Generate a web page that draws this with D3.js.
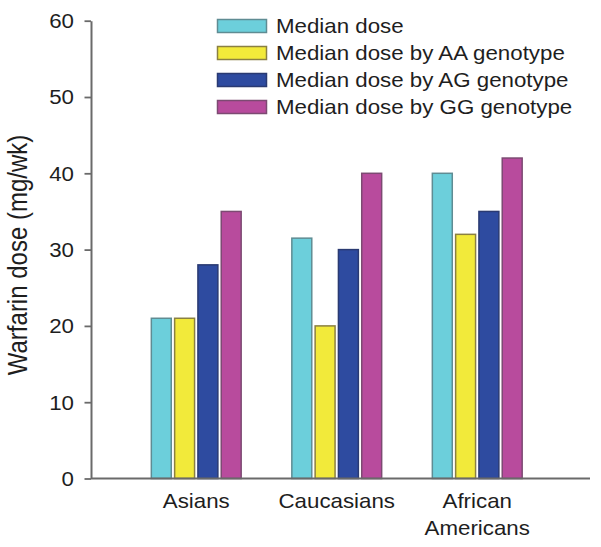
<!DOCTYPE html>
<html>
<head>
<meta charset="utf-8">
<script src="https://cdn.jsdelivr.net/npm/d3@7"></script>
<style>
  html, body { margin: 0; padding: 0; background: #fff; }
  svg { display: block; }
  text { font-family: "Liberation Sans", Arial, Helvetica, sans-serif; fill: #1e1e1e; }
</style>
</head>
<body>
<svg id="chart" width="601" height="547"></svg>
<script>
// ---- data ----
const categories = ["Asians", "Caucasians", "African Americans"];
const seriesNames = [
  "Median dose",
  "Median dose by AA genotype",
  "Median dose by AG genotype",
  "Median dose by GG genotype"
];
const medianDose = [21, 31.5, 40];
const doseAA = [21, 20, 32];
const doseAG = [28, 30, 35];
const doseGG = [35, 40, 42];
const yTicks = [0, 10, 20, 30, 40, 50, 60];
const yLabel = "Warfarin dose (mg/wk)";

const seriesValues = [medianDose, doseAA, doseAG, doseGG];
const fills = ["#6ccfdb", "#f2ea3a", "#2e4ba0", "#b84b9d"];
const strokes = ["#5f8c93", "#8a8042", "#2a3a72", "#7c4a72"];

// ---- layout ----
const svg = d3.select("#chart");
const axisX = 91, baseY = 478.5, topY = 20.7, rightX = 590;
const sx = 1.15; // horizontal stretch of the type
const fs = 19.4;

const y = d3.scaleLinear().domain([0, 60]).range([baseY, topY]);
const x0 = d3.scaleBand().domain(categories).range([126, 547.5])
  .paddingInner(0.35).paddingOuter(0.175);
const x1 = d3.scaleBand().domain(d3.range(seriesNames.length))
  .range([0, x0.bandwidth()]).paddingInner(0.08).paddingOuter(0);

// ---- bars ----
const groups = svg.append("g").selectAll("g")
  .data(categories).join("g")
  .attr("transform", d => `translate(${x0(d)},0)`);

groups.selectAll("rect")
  .data((c, ci) => seriesValues.map((vals, si) => ({ si, v: vals[ci] })))
  .join("rect")
  .attr("x", d => x1(d.si) + 0.75)
  .attr("width", x1.bandwidth() - 1.5)
  .attr("y", d => y(d.v))
  .attr("height", d => y(0) - y(d.v))
  .attr("fill", d => fills[d.si])
  .attr("stroke", d => strokes[d.si])
  .attr("stroke-width", 1.5);

// ---- x axis line ----
svg.append("line")
  .attr("x1", axisX).attr("x2", rightX)
  .attr("y1", y(0)).attr("y2", y(0))
  .attr("stroke", "#6a6a6a").attr("stroke-width", 2);

// ---- y axis ----
const yAxis = svg.append("g")
  .attr("transform", `translate(${axisX},0)`)
  .call(d3.axisLeft(y).tickValues(yTicks).tickSize(6.5).tickSizeOuter(0));
yAxis.select(".domain").attr("stroke", "#6a6a6a").attr("stroke-width", 2);
yAxis.selectAll(".tick line").attr("stroke", "#6a6a6a").attr("stroke-width", 1.8);
yAxis.selectAll(".tick text")
  .attr("x", null).attr("dy", null)
  .attr("text-anchor", "end")
  .attr("dominant-baseline", "central")
  .attr("transform", `translate(-17,0) scale(${sx},1)`)
  .style("font-size", fs + "px")
  .style("font-family", '"Liberation Sans", Arial, sans-serif')
  .attr("fill", "#1e1e1e");

// ---- category labels ----
const xAxis = svg.append("g")
  .attr("transform", `translate(0,${y(0)})`)
  .call(d3.axisBottom(x0).tickSize(0));
xAxis.select(".domain").remove();
xAxis.selectAll(".tick text").each(function(d) {
  const t = d3.select(this);
  t.text(null).attr("y", null).attr("dy", null)
   .attr("text-anchor", "middle")
   .attr("transform", `translate(0,29) scale(${sx},1)`)
   .style("font-size", fs + "px")
   .style("font-family", '"Liberation Sans", Arial, sans-serif')
   .attr("fill", "#1e1e1e");
  const words = d === "African Americans" ? ["African", "Americans"] : [d];
  words.forEach((w, i) => {
    t.append("tspan").attr("x", 0).attr("y", i * 28).text(w);
  });
});

// ---- y label ----
svg.append("text")
  .attr("transform", `translate(27,255) rotate(-90) scale(1,${sx})`)
  .attr("text-anchor", "middle")
  .style("font-size", "24px")
  .text(yLabel);

// ---- legend ----
const legend = svg.append("g").attr("transform", "translate(217.5,19.5)");
const rows = legend.selectAll("g").data(seriesNames).join("g")
  .attr("transform", (d, i) => `translate(0,${i * 27})`);
rows.append("rect")
  .attr("width", 49).attr("height", 13)
  .attr("fill", (d, i) => fills[i])
  .attr("stroke", (d, i) => strokes[i])
  .attr("stroke-width", 1.5);
rows.append("text")
  .attr("transform", `translate(58.5,13) scale(${sx},1)`)
  .style("font-size", fs + "px")
  .text(d => d);
</script>
</body>
</html>
